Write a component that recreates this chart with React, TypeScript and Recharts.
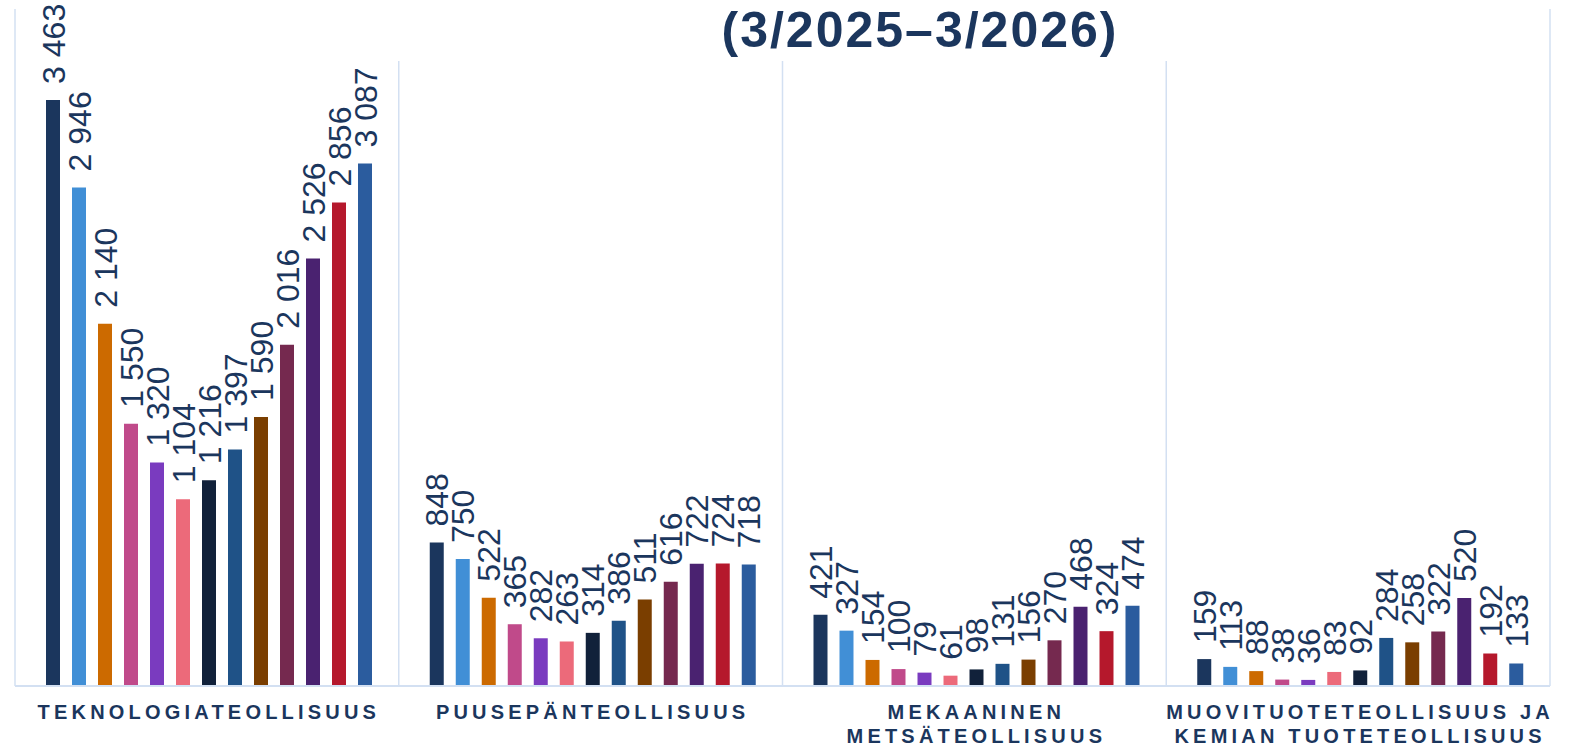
import React from 'react';
import { BarChart, Bar, XAxis, YAxis, CartesianGrid, LabelList } from 'recharts';

const months = [
  '3/2025', '4/2025', '5/2025', '6/2025', '7/2025', '8/2025', '9/2025',
  '10/2025', '11/2025', '12/2025', '1/2026', '2/2026', '3/2026',
];

const categories = [
  'TEKNOLOGIATEOLLISUUS',
  'PUUSEPÄNTEOLLISUUS',
  'MEKAANINEN\nMETSÄTEOLLISUUS',
  'MUOVITUOTETEOLLISUUS JA\nKEMIAN TUOTETEOLLISUUS',
];

const teknologia = [3463, 2946, 2140, 1550, 1320, 1104, 1216, 1397, 1590, 2016, 2526, 2856, 3087];
const puusepan = [848, 750, 522, 365, 282, 263, 314, 386, 511, 616, 722, 724, 718];
const mekaaninen = [421, 327, 154, 100, 79, 61, 98, 131, 156, 270, 468, 324, 474];
const muovi = [159, 113, 88, 38, 36, 83, 92, 284, 258, 322, 520, 192, 133];

const seriesValues = [teknologia, puusepan, mekaaninen, muovi];

const colors = [
  '#1b365d', '#418fd6', '#cc6a00', '#c04a8a', '#7a3bbf', '#ec6a7a', '#11213a',
  '#1f5287', '#7a3e00', '#75294f', '#4a2270', '#b5182c', '#2b5c9e',
];

const data = categories.map((name, ci) => {
  const row: Record<string, string | number> = { name };
  months.forEach((m, mi) => {
    row[m] = seriesValues[ci][mi];
  });
  return row;
});

const TEXT = '#1b365d';
const GRID = '#d3e0f2';
const FONT = '"Liberation Sans", Arial, sans-serif';

const fmt = (v: number) => String(v).replace(/\B(?=(\d{3})+(?!\d))/g, ' ');

const ValueLabel = (props: any) => {
  const { x, y, width, value } = props;
  const cx = x + width / 2;
  const ty = y - 16;
  return (
    <text
      x={cx}
      y={ty}
      dy="0.36em"
      transform={`rotate(-90, ${cx}, ${ty})`}
      textAnchor="start"
      fontSize={32}
      fontFamily={FONT}
      fill={TEXT}
    >
      {fmt(value)}
    </text>
  );
};

const CategoryTick = (props: any) => {
  const { x, y, payload } = props;
  const lines = String(payload.value).split('\n');
  return (
    <g>
      {lines.map((line, i) => (
        <text
          key={i}
          x={x + 2}
          y={y + 25 + i * 24}
          textAnchor="middle"
          fontSize={20}
          fontWeight="bold"
          letterSpacing={4.2}
          fontFamily={FONT}
          fill={TEXT}
        >
          {line}
        </text>
      ))}
    </g>
  );
};

export default function App() {
  return (
    <div style={{ position: 'absolute', left: 0, top: 0, width: 1569, height: 746, background: '#fff' }}>
      <BarChart
        width={1569}
        height={746}
        data={data}
        margin={{ top: 9, right: 19, left: 15, bottom: 0 }}
        barCategoryGap={31}
        barGap={12}
      >
        <CartesianGrid
          horizontal={false}
          stroke={GRID}
          strokeWidth={1.5}
          verticalCoordinatesGenerator={({ offset }: any) =>
            [0, 1, 2, 3, 4].map((i) => offset.left + (i * offset.width) / 4)
          }
        />
        <XAxis
          dataKey="name"
          height={60}
          interval={0}
          tickLine={false}
          axisLine={{ stroke: GRID, strokeWidth: 2 }}
          tick={<CategoryTick />}
        />
        <YAxis hide domain={[0, 4000]} />
        {months.map((m, i) => (
          <Bar key={m} dataKey={m} fill={colors[i]} isAnimationActive={false}>
            <LabelList dataKey={m} content={<ValueLabel />} />
          </Bar>
        ))}
      </BarChart>
      <div
        style={{
          position: 'absolute',
          left: 390,
          top: 0,
          width: 1155,
          height: 61,
          background: '#fff',
        }}
      />
      <div
        style={{
          position: 'absolute',
          left: 390,
          top: 4,
          width: 1060,
          textAlign: 'center',
          fontFamily: FONT,
          fontWeight: 'bold',
          fontSize: 50,
          letterSpacing: 2,
          lineHeight: '52px',
          color: TEXT,
        }}
      >
        (3/2025–3/2026)
      </div>
    </div>
  );
}
